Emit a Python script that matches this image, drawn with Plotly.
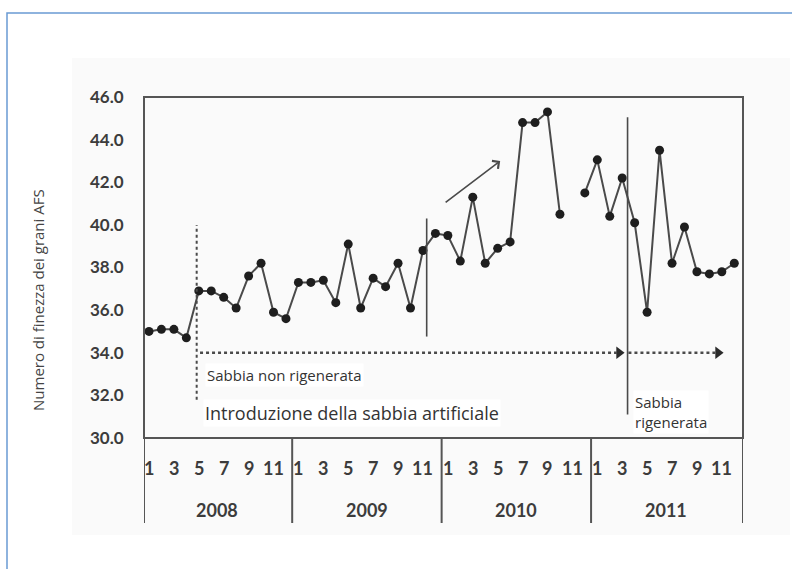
import plotly.graph_objects as go

# Monthly AFS grain fineness, Jan 2008 .. Dec 2011 (Nov 2010 not measured)
months = list(range(1, 49))
afs_values = [
    35.0, 35.1, 35.1, 34.7, 36.9, 36.9, 36.6, 36.1, 37.6, 38.2, 35.9, 35.6,   # 2008
    37.3, 37.3, 37.4, 36.35, 39.1, 36.1, 37.5, 37.1, 38.2, 36.1, 38.8, 39.6,  # 2009
    39.5, 38.3, 41.3, 38.2, 38.9, 39.2, 44.8, 44.8, 45.3, 40.5, None, 41.5,   # 2010
    43.05, 40.4, 42.2, 40.1, 35.9, 43.5, 38.2, 39.9, 37.8, 37.7, 37.8, 38.2,  # 2011
]
years = ["2008", "2009", "2010", "2011"]
month_ticks = [1, 3, 5, 7, 9, 11]
y_ticks = [30, 32, 34, 36, 38, 40, 42, 44, 46]

W, H = 792, 569
L, R, T, B = 144, 49, 97, 131
X_RANGE = [0.6, 48.7]
Y_RANGE = [30, 46]

INK = "#4a4a4a"
DARK = "#333333"
NUM_FONT = dict(family="Lato", size=18, color="#3c3c3c", weight="bold")
TXT_FONT = "Open Sans"


def py(pix):
    """paper y for a pixel row"""
    return (H - B - pix) / (H - B - T)


def px(pix):
    """paper x for a pixel column"""
    return (pix - L) / (W - L - R)


fig = go.Figure()

# grain-fineness series
fig.add_trace(go.Scatter(
    x=months, y=afs_values, mode="lines+markers",
    line=dict(color=INK, width=2),
    marker=dict(color="#1e1e1e", size=9),
    connectgaps=False, hoverinfo="x+y", showlegend=False,
))

shapes = []
annotations = []

# faint page haze and blue frame
shapes.append(dict(type="rect", xref="paper", yref="paper", layer="below",
                   x0=px(72), x1=px(790), y0=py(535), y1=py(58),
                   fillcolor="#fafafa", line=dict(width=0)))
shapes.append(dict(type="rect", xref="paper", yref="paper",
                   x0=px(7), x1=px(810), y0=py(600), y1=py(13),
                   line=dict(color="#6a9bd3", width=1.5)))

# plot box
shapes.append(dict(type="rect", xref="paper", yref="paper",
                   x0=0, x1=1, y0=0, y1=1, line=dict(color="#555555", width=2)))

# month / year table under the plot
for k, yr in enumerate(years):
    for m in month_ticks:
        annotations.append(dict(x=12 * k + m, y=py(468), xref="x", yref="paper",
                                text=str(m), showarrow=False, font=NUM_FONT,
                                xanchor="center", yanchor="middle"))
    annotations.append(dict(x=12 * k + 6.5, y=py(510), xref="x", yref="paper",
                            text=yr, showarrow=False, font=NUM_FONT,
                            xanchor="center", yanchor="middle"))
for xb in [X_RANGE[0], 12.5, 24.5, 36.5, X_RANGE[1]]:
    shapes.append(dict(type="line", xref="x", yref="paper", x0=xb, x1=xb,
                       y0=py(523), y1=0, line=dict(color="#555555", width=2)))

# event markers
shapes.append(dict(type="line", xref="x", yref="y", x0=4.83, x1=4.83, y0=31.8, y1=40.0,
                   line=dict(color=INK, width=2, dash="dot")))
shapes.append(dict(type="line", xref="x", yref="y", x0=23.3, x1=23.3, y0=34.76, y1=40.3,
                   line=dict(color=INK, width=1.6)))
shapes.append(dict(type="line", xref="x", yref="y", x0=39.43, x1=39.43, y0=31.1, y1=45.05,
                   line=dict(color=INK, width=1.6)))

# dashed timeline arrows
shapes.append(dict(type="line", xref="x", yref="y", x0=5.1, x1=38.8, y0=34.0, y1=34.0,
                   line=dict(color=INK, width=2.5, dash="dot")))
shapes.append(dict(type="line", xref="x", yref="y", x0=39.5, x1=46.7, y0=34.0, y1=34.0,
                   line=dict(color=INK, width=2.5, dash="dot")))
fig.add_trace(go.Scatter(
    x=[38.75, 46.7], y=[34.0, 34.0], mode="markers",
    marker=dict(symbol="triangle-right", size=11, color="#2a2a2a"),
    hoverinfo="skip", showlegend=False,
))

# rising-trend arrow
annotations.append(dict(x=29.2, y=43.0, ax=24.7, ay=41.0, xref="x", yref="y",
                        axref="x", ayref="y", showarrow=True, arrowhead=4,
                        arrowsize=1.2, arrowwidth=1.6, arrowcolor=INK, text=""))

# labels
annotations.append(dict(x=5.5, y=32.96, xref="x", yref="y", text="Sabbia non rigenerata",
                        showarrow=False, xanchor="left", yanchor="middle", bgcolor="white",
                        font=dict(family=TXT_FONT, size=15, color=DARK)))
annotations.append(dict(x=5.35, y=31.17, xref="x", yref="y",
                        text="Introduzione della sabbia artificiale",
                        showarrow=False, xanchor="left", yanchor="middle", bgcolor="white",
                        font=dict(family=TXT_FONT, size=18, color=DARK)))
annotations.append(dict(x=39.9, y=31.22, xref="x", yref="y", text="Sabbia<br>rigenerata",
                        showarrow=False, xanchor="left", yanchor="middle", align="left",
                        bgcolor="white",
                        font=dict(family=TXT_FONT, size=15, color=DARK)))
annotations.append(dict(x=px(38), y=py(300), xref="paper", yref="paper",
                        text="Numero di finezza dei grani AFS", textangle=-90,
                        showarrow=False, xanchor="center", yanchor="middle",
                        font=dict(family=TXT_FONT, size=15, color="#444444")))

fig.update_layout(
    width=W, height=H,
    margin=dict(l=L, r=R, t=T, b=B, pad=0),
    paper_bgcolor="white", plot_bgcolor="#fefefe",
    shapes=shapes, annotations=annotations, showlegend=False,
)
fig.update_xaxes(range=X_RANGE, showticklabels=False, showgrid=False, zeroline=False,
                 showline=False, ticks="")
fig.update_yaxes(range=Y_RANGE, tickvals=y_ticks,
                 ticktext=[f"{v:.1f}" for v in y_ticks],
                 tickfont=dict(family="Lato", size=17, color="#3c3c3c", weight="bold"),
                 ticks="outside", ticklen=16, tickcolor="rgba(0,0,0,0)",
                 showgrid=False, zeroline=False, showline=False)

fig.write_html("out.html")
